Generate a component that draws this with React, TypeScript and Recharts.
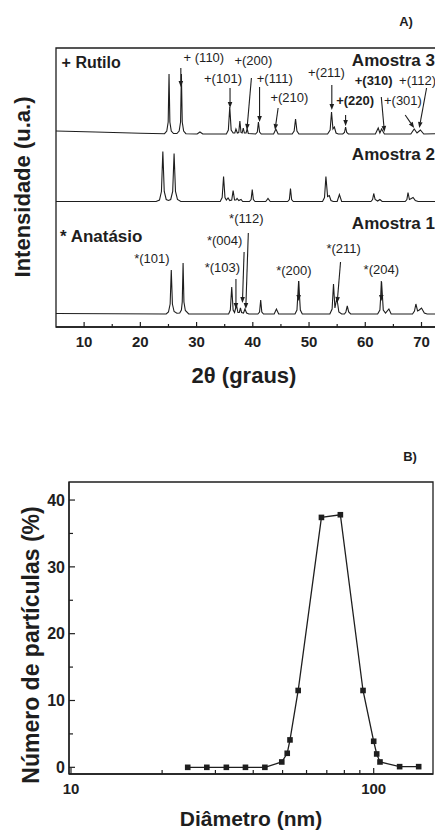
import React from 'react';
import { LineChart, Line, XAxis, YAxis, ReferenceLine, ReferenceDot, ReferenceArea } from 'recharts';

const FONT = "'Liberation Sans', Arial, Helvetica, sans-serif";
const INK = '#1e1e1e';

// ---------- Panel A : XRD patterns (2θ, intensity above each baseline, a.u.) ----------
const amostra3: [number, number][] = [
  [5, 3], [12, 2], [20, 0.8], [24.3, 0.3], [24.7, 3], [24.95, 12], [25.1, 60], [25.25, 12], [25.5, 3], [25.9, 0.5],
  [26.5, 0.5], [26.9, 3], [27.15, 12], [27.3, 60], [27.45, 12], [27.7, 3], [28.1, 0.3], [30.1, 0], [30.6, 2], [31.1, 0],
  [35.3, 0], [35.65, 4], [35.9, 27], [36.15, 4], [36.5, 1], [36.8, 1], [37.0, 5], [37.25, 1], [37.5, 1.5], [37.7, 13],
  [37.9, 1.5], [38.1, 1], [38.3, 6], [38.5, 1], [38.8, 1], [39.0, 5], [39.2, 0.5], [40.5, 0], [40.8, 2], [41.0, 12],
  [41.2, 2], [41.5, 0], [43.7, 0], [44.1, 5], [44.5, 0], [47.0, 0], [47.35, 3], [47.6, 15], [47.85, 3], [48.2, 0],
  [53.3, 0], [53.75, 4], [54.0, 22], [54.25, 5], [54.5, 7], [54.8, 1], [55.2, 0], [56.0, 0], [56.3, 1.5], [56.5, 7],
  [56.7, 1.5], [57.0, 0], [61.8, 0], [62.3, 6], [62.6, 1], [62.9, 5], [63.4, 0], [68.1, 0], [68.7, 5], [69.2, 1],
  [69.8, 4], [70.4, 0], [74, 0.5],
];
const amostra2: [number, number][] = [
  [5, 0], [22.8, 0], [23.4, 1.5], [23.75, 10], [24.0, 50], [24.25, 10], [24.6, 2], [25.0, 1], [25.4, 2], [25.75, 10],
  [26.0, 48], [26.25, 10], [26.6, 2], [27.2, 0], [34.2, 0], [34.55, 4], [34.8, 25], [35.05, 4], [35.3, 1.5], [35.6, 3.5],
  [35.9, 1], [36.25, 1.5], [36.5, 11], [36.75, 1.5], [37.0, 1.5], [37.2, 3], [37.5, 1], [37.9, 2], [38.2, 0], [39.4, 0],
  [39.7, 2], [39.9, 12], [40.1, 2], [40.4, 0], [42.3, 0], [42.7, 3], [43.1, 0], [46.2, 0], [46.5, 2], [46.7, 13],
  [46.9, 2], [47.2, 0], [52.4, 0], [52.75, 4], [53.0, 25], [53.3, 5], [53.6, 6], [53.9, 1], [54.3, 0], [55.0, 0],
  [55.4, 7], [55.8, 0], [61.0, 0], [61.3, 2], [61.5, 8], [61.75, 2], [62.2, 0.5], [62.6, 2], [63.0, 0], [67.1, 0],
  [67.4, 2], [67.6, 9], [67.85, 2], [68.2, 3], [68.5, 4], [68.9, 1], [69.4, 0], [74, 0],
];
const amostra1: [number, number][] = [
  [5, 0.5], [24.6, 0], [25.0, 2], [25.3, 10], [25.5, 44], [25.7, 10], [26.0, 2.5], [26.5, 0.8], [27.0, 1], [27.3, 4],
  [27.45, 12], [27.6, 51], [27.75, 12], [28.0, 3.5], [28.6, 0], [35.7, 0], [36.0, 4], [36.25, 27], [36.5, 4], [36.75, 1.5],
  [37.1, 9], [37.35, 1.5], [37.6, 1.5], [37.8, 6], [38.0, 1.5], [38.35, 1], [38.6, 5], [38.9, 1], [39.3, 0], [40.9, 0],
  [41.2, 2], [41.4, 14], [41.6, 2], [41.9, 0], [43.8, 0], [44.2, 5], [44.6, 0], [47.5, 0], [47.85, 4], [48.15, 33],
  [48.45, 4], [48.8, 0], [53.7, 0], [54.1, 5], [54.35, 30], [54.6, 6], [54.95, 16], [55.3, 2], [55.8, 0], [56.3, 0],
  [56.55, 2], [56.8, 8], [57.05, 2], [57.4, 0], [62.2, 0], [62.6, 4], [62.9, 32], [63.2, 4], [63.6, 1], [64.2, 5],
  [64.6, 0], [68.4, 0], [68.75, 3], [69.0, 10], [69.3, 3], [69.6, 4], [70.0, 6], [70.5, 1], [71.0, 0], [74, 0],
];
const OFFSET_1 = 13;
const OFFSET_2 = 125.5;
const OFFSET_3 = 193;

const xrdMajorTicks = [10, 20, 30, 40, 50, 60, 70];
const xrdMinorTicks = [15, 25, 35, 45, 55, 65];
const XRD_X_DOMAIN: [number, number] = [5, 74];
const XRD_Y_DOMAIN: [number, number] = [0, 279];

type Note = { label: string; tx: number; ty: number; bold?: boolean; arrow?: [number, number, number, number] };
const rutiloNotes: Note[] = [
  { label: '+ (110)', tx: 31.3, ty: 270, arrow: [27.2, 259, 27.2, 240] },
  { label: '+(101)', tx: 34.7, ty: 249, arrow: [35.95, 239, 35.95, 219] },
  { label: '+(200)', tx: 40.1, ty: 267, arrow: [39.75, 249, 38.95, 197] },
  { label: '+(111)', tx: 43.9, ty: 249, arrow: [41.2, 240, 41.2, 205] },
  { label: '+(210)', tx: 46.5, ty: 230, arrow: [44.5, 219, 43.95, 197] },
  { label: '+(211)', tx: 53.1, ty: 255, arrow: [54.05, 242, 54.05, 217] },
  { label: '+(220)', tx: 58.2, ty: 227, bold: true, arrow: [56.5, 212, 56.5, 201] },
  { label: '+(310)', tx: 61.5, ty: 247, bold: true, arrow: [62.85, 230, 63.4, 195] },
  { label: '+(301)', tx: 66.7, ty: 227, arrow: [67.1, 212, 68.7, 199] },
  { label: '+(112)', tx: 69.3, ty: 247, arrow: [70.9, 239, 69.6, 199] },
];
const anatasioNotes: Note[] = [
  { label: '*(101)', tx: 22.05, ty: 69 },
  { label: '*(103)', tx: 34.6, ty: 60, arrow: [37.0, 48, 37.0, 18] },
  { label: '*(004)', tx: 35.0, ty: 87, arrow: [38.45, 75, 38.15, 24] },
  { label: '*(112)', tx: 38.85, ty: 109, arrow: [39.2, 94, 38.75, 18] },
  { label: '*(200)', tx: 47.3, ty: 57, arrow: [48.15, 46, 48.15, 26] },
  { label: '*(211)', tx: 56.15, ty: 79, arrow: [55.6, 65, 55.0, 24] },
  { label: '*(204)', tx: 62.85, ty: 58, arrow: [62.85, 46, 62.85, 26] },
];
const sampleNames = ['Amostra 3', 'Amostra 2', 'Amostra 1'];
const sampleNameY = [267, 173, 104];

// ---------- Panel B : particle size distribution ----------
const diametro = [24.3, 28.1, 32.6, 37.7, 43.7, 49.7, 51.8, 52.9, 56.3, 67.2, 77.6, 92.2, 100, 102.3, 104.9, 121.8, 140.8];
const numeroParticulas = [0, 0, 0, 0, 0, 0.8, 2.1, 4.1, 11.5, 37.4, 37.8, 11.5, 3.9, 2.0, 0.8, 0.1, 0.1];
const psdXTicks = [10, 20, 30, 40, 50, 60, 70, 80, 90, 100];
const psdXLabels = [10, 100];
const psdYTicks = [0, 5, 10, 15, 20, 25, 30, 35, 40];
const psdYLabels = [0, 10, 20, 30, 40];
const PSD_X_DOMAIN: [number, number] = [9.85, 157];
const PSD_Y_DOMAIN: [number, number] = [-1, 42.7];

const toSeries = (pts: [number, number][], off: number) => pts.map(([x, v]) => ({ x, y: v + off }));
const psdData = diametro.map((d, i) => ({ d, n: numeroParticulas[i] }));

const Arrow = (p: any) => {
  const { x1, y1, x2, y2 } = p;
  const dx = x2 - x1;
  const dy = y2 - y1;
  const len = Math.hypot(dx, dy) || 1;
  const ux = dx / len;
  const uy = dy / len;
  const hl = 6;
  const hw = 2.3;
  const bx = x2 - ux * hl;
  const by = y2 - uy * hl;
  const pts = `${x2},${y2} ${bx - uy * hw},${by + ux * hw} ${bx + uy * hw},${by - ux * hw}`;
  return (
    <g>
      <line x1={x1} y1={y1} x2={bx} y2={by} stroke={INK} strokeWidth={1.1} />
      <polygon points={pts} fill={INK} />
    </g>
  );
};

const XrdTick = (p: any) => {
  const { x, y, payload } = p;
  const v = payload.value;
  const major = xrdMajorTicks.includes(v);
  return (
    <g>
      <line x1={x} y1={y} x2={x} y2={y - (major ? 5 : 3)} stroke={INK} strokeWidth={1.2} />
      {major && (
        <text x={x} y={y + 20} textAnchor="middle" fontFamily={FONT} fontWeight="bold" fontSize={15} fill={INK}>
          {v}
        </text>
      )}
    </g>
  );
};

const PsdXTick = (p: any) => {
  const { x, y, payload } = p;
  const v = payload.value;
  const major = psdXLabels.includes(v);
  return (
    <g>
      <line x1={x} y1={y} x2={x} y2={y - (major ? 6 : 4)} stroke={INK} strokeWidth={1.2} />
      {major && (
        <text x={x} y={y + 20} textAnchor="middle" fontFamily={FONT} fontWeight="bold" fontSize={15} fill={INK}>
          {v}
        </text>
      )}
    </g>
  );
};

const PsdYTick = (p: any) => {
  const { x, y, payload } = p;
  const v = payload.value;
  const major = psdYLabels.includes(v);
  return (
    <g>
      <line x1={x} y1={y} x2={x + (major ? 6 : 4)} y2={y} stroke={INK} strokeWidth={1.2} />
      {major && (
        <text x={x - 4} y={y} dy="0.36em" textAnchor="end" fontFamily={FONT} fontWeight="bold" fontSize={16} fill={INK}>
          {v}
        </text>
      )}
    </g>
  );
};

const SquareDot = (p: any) => {
  const { cx, cy, index } = p;
  if (cx == null || cy == null) return <g key={index} />;
  return <rect key={index} x={cx - 2.8} y={cy - 2.8} width={5.6} height={5.6} fill={INK} />;
};

const textShape = (label: string, size: number, bold: boolean, anchor: string = 'middle') => (p: any) => (
  <text
    x={p.cx}
    y={p.cy}
    dy="0.36em"
    textAnchor={anchor}
    fontFamily={FONT}
    fontSize={size}
    fontWeight={bold ? 'bold' : 'normal'}
    fill={INK}
  >
    {label}
  </text>
);

const renderNotes = (notes: Note[], prefix: string) => {
  const out: any[] = [];
  notes.forEach((n, i) => {
    if (n.arrow) {
      const [ax1, ay1, ax2, ay2] = n.arrow;
      out.push(
        <ReferenceLine
          key={`${prefix}-a-${i}`}
          segment={[{ x: ax1, y: ay1 }, { x: ax2, y: ay2 }]}
          shape={Arrow}
          ifOverflow="visible"
        />
      );
    }
    out.push(
      <ReferenceDot
        key={`${prefix}-t-${i}`}
        x={n.tx}
        y={n.ty}
        r={0}
        ifOverflow="visible"
        shape={textShape(n.label, 13, !!n.bold)}
      />
    );
  });
  return out;
};

export default function App() {
  const s1 = toSeries(amostra1, OFFSET_1);
  const s2 = toSeries(amostra2, OFFSET_2);
  const s3 = toSeries(amostra3, OFFSET_3);
  const xrdTicks = [...xrdMajorTicks, ...xrdMinorTicks].sort((a, b) => a - b);

  return (
    <div
      style={{
        position: 'absolute',
        left: 0,
        top: 0,
        width: 435,
        height: 831,
        overflow: 'hidden',
        background: '#fff',
        fontFamily: FONT,
      }}
    >
      {/* Panel A */}
      <div style={{ position: 'absolute', left: 0, top: 0 }}>
        <LineChart width={460} height={400} margin={{ top: 48, right: 16, bottom: 43, left: 56 }}>
          <XAxis
            type="number"
            dataKey="x"
            domain={XRD_X_DOMAIN}
            allowDataOverflow
            ticks={xrdTicks}
            interval={0}
            tickSize={0}
            tickMargin={0}
            tick={XrdTick}
            axisLine={{ stroke: INK, strokeWidth: 1.3 }}
            height={30}
          />
          <YAxis type="number" dataKey="y" domain={XRD_Y_DOMAIN} allowDataOverflow hide />
          <ReferenceArea
            x1={XRD_X_DOMAIN[0]}
            x2={XRD_X_DOMAIN[1]}
            y1={XRD_Y_DOMAIN[0]}
            y2={XRD_Y_DOMAIN[1]}
            fill="none"
            fillOpacity={0}
            stroke={INK}
            strokeWidth={1.3}
            ifOverflow="visible"
          />
          <Line data={s3} dataKey="y" stroke={INK} strokeWidth={1.1} dot={false} isAnimationActive={false} />
          <Line data={s2} dataKey="y" stroke={INK} strokeWidth={1.1} dot={false} isAnimationActive={false} />
          <Line data={s1} dataKey="y" stroke={INK} strokeWidth={1.1} dot={false} isAnimationActive={false} />
          {renderNotes(rutiloNotes, 'r')}
          {renderNotes(anatasioNotes, 'an')}
          <ReferenceDot x={6.0} y={265} r={0} ifOverflow="visible" shape={textShape('+ Rutilo', 16, true, 'start')} />
          <ReferenceDot x={5.7} y={91} r={0} ifOverflow="visible" shape={textShape('* Anatásio', 17, true, 'start')} />
          {sampleNames.map((name, i) => (
            <ReferenceDot
              key={name}
              x={72.4}
              y={sampleNameY[i]}
              r={0}
              ifOverflow="visible"
              shape={textShape(name, 17, true, 'end')}
            />
          ))}
        </LineChart>
      </div>

      {/* Panel B */}
      <div style={{ position: 'absolute', left: 0, top: 440 }}>
        <LineChart width={435} height={391} data={psdData} margin={{ top: 42, right: 2, bottom: 27, left: 9 }}>
          <XAxis
            type="number"
            dataKey="d"
            scale="log"
            domain={PSD_X_DOMAIN}
            allowDataOverflow
            ticks={psdXTicks}
            interval={0}
            tickSize={0}
            tickMargin={0}
            tick={PsdXTick}
            axisLine={{ stroke: INK, strokeWidth: 1.3 }}
            height={30}
          />
          <YAxis
            type="number"
            domain={PSD_Y_DOMAIN}
            allowDataOverflow
            ticks={psdYTicks}
            interval={0}
            tickSize={0}
            tickMargin={0}
            tick={PsdYTick}
            axisLine={{ stroke: INK, strokeWidth: 1.3 }}
            width={60}
          />
          <ReferenceArea
            x1={PSD_X_DOMAIN[0]}
            x2={PSD_X_DOMAIN[1]}
            y1={PSD_Y_DOMAIN[0]}
            y2={PSD_Y_DOMAIN[1]}
            fill="none"
            fillOpacity={0}
            stroke={INK}
            strokeWidth={1.3}
            ifOverflow="visible"
          />
          <Line dataKey="n" stroke={INK} strokeWidth={1.3} dot={SquareDot} isAnimationActive={false} />
        </LineChart>
      </div>

      {/* Titles */}
      <svg width={435} height={831} style={{ position: 'absolute', left: 0, top: 0, pointerEvents: 'none' }}>
        <text x={406} y={26} textAnchor="middle" fontFamily={FONT} fontWeight="bold" fontSize={13} fill={INK}>
          A)
        </text>
        <text transform="translate(30,187) rotate(-90)" textAnchor="middle" fontFamily={FONT} fontWeight="bold" fontSize={22} fill={INK}>
          Intensidade (u.a.)
        </text>
        <text x={244} y={383} textAnchor="middle" fontFamily={FONT} fontWeight="bold" fontSize={22} fill={INK}>
          2θ (graus)
        </text>
        <text x={410} y={461} textAnchor="middle" fontFamily={FONT} fontWeight="bold" fontSize={13} fill={INK}>
          B)
        </text>
        <text transform="translate(39,645) rotate(-90)" textAnchor="middle" fontFamily={FONT} fontWeight="bold" fontSize={23} fill={INK}>
          Número de partículas (%)
        </text>
        <text x={251} y={826} textAnchor="middle" fontFamily={FONT} fontWeight="bold" fontSize={21} fill={INK}>
          Diâmetro (nm)
        </text>
      </svg>
    </div>
  );
}
